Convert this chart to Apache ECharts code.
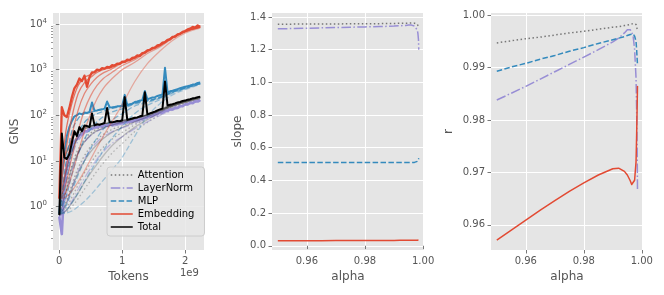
<!DOCTYPE html>
<html><head><meta charset="utf-8">
<script src="https://cdn.jsdelivr.net/npm/echarts@6/dist/echarts.min.js"></script>
<style>html,body{margin:0;padding:0;background:#fff}#c{width:664px;height:295px}</style>
</head><body><div id="c"></div>
<script>
// ---------- Left panel: GNS vs tokens (x in units of 1e9 tokens) ----------
const tokens = [0,0.04,0.08,0.12,0.16,0.2,0.24,0.28,0.32,0.36,0.4,0.44,0.48,0.52,0.56,0.6,0.64,0.68,0.72,0.76,0.8,0.84,0.88,0.92,0.96,1,1.04,1.08,1.12,1.16,1.2,1.24,1.28,1.32,1.36,1.4,1.44,1.48,1.52,1.56,1.6,1.64,1.68,1.72,1.76,1.8,1.84,1.88,1.92,1.96,2,2.04,2.08,2.12,2.16,2.2,2.24];
const attentionGNS = [0.7,6,12,16,22,30,38,42,48,50,54,58,56,60,58,62,60,63,64,66,68,68,70,72,72,75,78,78,80,83,85,88,90,94,98,102,106,110,115,120,125,130,140,150,155,160,168,175,180,188,195,200,208,215,222,230,235];
const layerNormGNS = [0.6,0.25,3,8,14,19,27,30,37,38,45,44,51,50,55,54,58,56,61,59,63,61,65,64,68,66,71,70,74,73,78,78,83,83,89,90,96,97,106,105,116,114,126,125,136,134,147,145,160,158,174,172,188,185,203,200,216];
const mlpGNS = [0.7,4,15,35,55,75,95,100,110,105,115,112,118,190,125,128,132,135,140,200,150,148,152,157,158,162,280,168,172,178,195,200,210,215,340,225,235,245,250,265,275,285,1100,320,335,345,360,375,390,405,420,435,450,470,480,510,520];
const embeddingGNS = [1.5,150,100,92,145,250,390,470,640,560,740,420,690,870,880,1000,960,1080,1050,1150,1120,1260,1230,1350,1330,1500,1480,1650,1620,1800,1850,2050,2000,2300,2350,2650,2700,3000,3050,3400,3500,3900,4000,4500,4600,5200,5300,5900,6100,6700,7000,7600,7900,8600,8300,9300,8700];
const totalGNS = [0.65,40,12,11,14,25,45,35,55,45,60,58,55,110,60,64,62,65,68,145,70,70,72,75,74,78,250,80,82,85,88,90,95,98,320,105,110,115,120,128,135,140,550,165,170,175,182,190,195,205,210,220,225,235,240,250,255];

// smoothed (lagging) curves, sampled at lagTokens
const lagTokens = [0,0.1,0.2,0.3,0.4,0.5,0.6,0.7,0.8,0.9,1.0,1.2,1.4,1.6,1.8,2.0,2.24];
const attentionLag = [
  [0.7,4,20,36,50,55,61,63,67,70,74,84,101,124,159,194,234],
  [0.7,2,8,18,30,41,50,56,62,67,71,82,100,123,158,193,233],
  [0.7,1.2,3,7,13,21,30,38,46,53,59,75,95,120,155,191,232],
  [0.7,0.9,1.6,3,5.5,9,14,20,27,35,42,62,86,114,151,188,230],
  [0.7,0.75,1.0,1.5,2.4,3.8,6,9,13,18,24,44,70,102,143,182,226]
];
const layerNormLag = [
  [0.6,3,13,28,40,49,55,58,61,64,67,76,91,114,139,171,214],
  [0.6,1.5,6,15,26,36,45,51,56,60,64,74,89,112,138,170,213],
  [0.6,1.0,2.5,6,11,18,26,34,41,47,53,67,84,108,135,168,212],
  [0.6,0.8,1.3,2.4,4.2,7,11,16,22,28,34,51,72,100,129,163,209]
];
const mlpLag = [
  [0.7,8,45,85,108,117,126,136,148,154,159,189,209,249,328,398,498],
  [0.7,3,15,40,70,92,108,122,137,147,154,186,207,247,325,396,496],
  [0.7,1.5,5,14,30,50,72,93,112,127,138,177,202,243,322,393,494],
  [0.7,1.0,2.2,5,10,19,32,50,70,90,108,160,192,236,316,388,490],
  [0.7,0.8,1.2,2.0,3.5,6,10,17,27,40,57,110,165,220,305,380,485],
  [0.7,0.72,0.8,1.0,1.3,1.8,2.6,3.8,5.5,8,12,35,95,180,280,365,475]
];
const embeddingLag = [
  [1.5,40,180,450,680,780,950,1050,1100,1280,1480,1830,2630,3480,5150,6950,8650],
  [1.5,15,90,300,520,680,870,1000,1080,1250,1450,1800,2600,3450,5100,6900,8600],
  [1.5,6,35,130,300,480,680,850,980,1180,1380,1750,2550,3400,5050,6850,8550],
  [1.5,3,12,45,130,270,450,640,800,1000,1230,1650,2450,3300,5000,6800,8500],
  [1.5,2,5,15,45,110,230,390,560,760,1000,1450,2250,3150,4850,6700,8400],
  [1.5,1.6,2.2,3.5,6,11,20,35,60,100,170,550,1350,2550,4350,6300,8100]
];
const totalLag = [
  [0.65,5,16,33,50,57,61,65,69,73,77,87,104,134,174,209,254],
  [0.65,2,7,15,26,37,46,53,59,65,70,84,101,132,172,207,253],
  [0.65,1.1,2.6,5.5,10,16,23,31,39,47,54,72,93,125,167,204,251],
  [0.65,0.8,1.2,2,3.4,5.5,8.5,13,19,26,34,55,80,115,160,199,248]
];
const gnsTicks = [1,10,100,1000,10000];
const gnsMinorTicks = [0.2,0.3,0.4,0.5,0.6,0.7,0.8,0.9,2,3,4,5,6,7,8,9,20,30,40,50,60,70,80,90,200,300,400,500,600,700,800,900,2000,3000,4000,5000,6000,7000,8000,9000];
const tokenTicks = [0,1,2];

// ---------- Middle / right panels: slope and r vs alpha ----------
const alpha = [0.95,0.955,0.96,0.965,0.97,0.975,0.98,0.985,0.99,0.992,0.994,0.995,0.996,0.9965,0.997,0.9975,0.998,0.9982,0.9984,0.9985];
const slopeAttention = [1.355,1.356,1.356,1.357,1.357,1.358,1.358,1.359,1.360,1.361,1.362,1.362,1.363,1.363,1.362,1.360,1.355,1.350,1.343,1.338];
const slopeLayerNorm = [1.327,1.329,1.331,1.333,1.335,1.337,1.339,1.341,1.344,1.346,1.348,1.350,1.350,1.348,1.344,1.336,1.320,1.300,1.260,1.200];
const slopeMLP = [0.510,0.510,0.510,0.510,0.509,0.509,0.509,0.509,0.509,0.509,0.509,0.509,0.509,0.509,0.510,0.512,0.516,0.521,0.529,0.535];
const slopeEmbedding = [0.031,0.031,0.031,0.031,0.032,0.032,0.032,0.032,0.032,0.033,0.033,0.033,0.033,0.033,0.033,0.034,0.034,0.034,0.035,0.035];
const rAttention = [0.9947,0.9951,0.9955,0.9958,0.9962,0.9966,0.9969,0.9973,0.9977,0.9978,0.9980,0.9981,0.9982,0.9983,0.9984,0.9984,0.9982,0.9978,0.9973,0.9969];
const rLayerNorm = [0.9838,0.9851,0.9864,0.9878,0.9892,0.9906,0.9920,0.9934,0.9949,0.9956,0.9966,0.9972,0.9972,0.9968,0.9960,0.9935,0.9880,0.9820,0.9740,0.9667];
const rMLP = [0.9893,0.9901,0.9908,0.9916,0.9923,0.9931,0.9938,0.9946,0.9953,0.9956,0.9959,0.9961,0.9963,0.9965,0.9964,0.9960,0.9950,0.9935,0.9915,0.9905];
const rEmbedding = [0.9571,0.9590,0.9609,0.9628,0.9646,0.9664,0.9680,0.9695,0.9707,0.9708,0.9702,0.9695,0.9684,0.9677,0.9676,0.9685,0.9720,0.9770,0.9830,0.9865];
const alphaTicks = [0.96,0.98,1.00];
const slopeTicks = [0.0,0.2,0.4,0.6,0.8,1.0,1.2,1.4];
const rTicks = [0.96,0.97,0.98,0.99,1.00];

// ---------- styling ----------
const FONT = 'DejaVu Sans';
const C = {att:'#777777', ln:'#988ED5', mlp:'#348ABD', emb:'#E24A33', tot:'#000000'};
const DASH = {att:[1.5,2.5], ln:[9.6,2.4,1.5,2.4], mlp:[5.5,2.4], emb:'solid', tot:'solid'};

function pairs(xs, ys){ return ys.map((v,i)=>[xs[i], v]); }
function mk(name, xs, ys, key, opts){
  opts = opts || {};
  return {
    type:'line', name:name, xAxisIndex:opts.xi||0, yAxisIndex:opts.yi||0,
    data:pairs(xs, ys), symbol:'none', smooth:opts.smooth||false, animation:false,
    silent:true,
    lineStyle:{color:C[key], width:opts.w||1.5, type:opts.solid?'solid':DASH[key], opacity:opts.op==null?1:opts.op, cap:'butt', join:'round'},
    itemStyle:{color:C[key]}, z:opts.z||2
  };
}

const series = [];
const groups = [
  ['Attention','att',attentionLag,attentionGNS,1.5],
  ['LayerNorm','ln',layerNormLag,layerNormGNS,2.6],
  ['MLP','mlp',mlpLag,mlpGNS,2.0],
  ['Embedding','emb',embeddingLag,embeddingGNS,2.3],
  ['Total','tot',totalLag,totalGNS,2.0]
];
groups.forEach(([name,key,lags,main,w])=>{
  lags.forEach((arr,j)=>{
    const op = key==='tot' ? 0.28 - j*0.03 : 0.75 - j*0.07;
    series.push(mk(name+'_s'+j, lagTokens, arr, key, {smooth:0.35, op:op, w:1.3}));
  });
  // raw noisy series: dense noise makes the pattern read as a solid band
  series.push(mk(name, tokens, main, key, {w:w, solid:true}));
});
// middle
series.push(mk('m_att', alpha, slopeAttention, 'att', {xi:1, yi:2}));
series.push(mk('m_ln', alpha, slopeLayerNorm, 'ln', {xi:1, yi:2}));
series.push(mk('m_mlp', alpha, slopeMLP, 'mlp', {xi:1, yi:2}));
series.push(mk('m_emb', alpha, slopeEmbedding, 'emb', {xi:1, yi:2}));
// right
series.push(mk('r_att', alpha, rAttention, 'att', {xi:2, yi:3}));
series.push(mk('r_ln', alpha, rLayerNorm, 'ln', {xi:2, yi:3}));
series.push(mk('r_mlp', alpha, rMLP, 'mlp', {xi:2, yi:3}));
series.push(mk('r_emb', alpha, rEmbedding, 'emb', {xi:2, yi:3}));

const tickStyle = {show:true, length:3.5, lineStyle:{color:'#555555', width:0.8}};
const labelStyle = {color:'#555555', fontSize:10, fontFamily:FONT};
const nameStyle = {color:'#555555', fontSize:12, fontFamily:FONT};
const split = {show:true, lineStyle:{color:'#ffffff', width:1}};

function xAxisDef(grid, min, max, ticks, fmt, name){
  return {type:'value', gridIndex:grid, min:min, max:max,
    axisLine:{show:false},
    axisTick:Object.assign({customValues:ticks}, tickStyle),
    axisLabel:Object.assign({customValues:ticks, margin:6, formatter:fmt}, labelStyle),
    splitLine:split, name:name, nameLocation:'middle', nameGap:21, nameTextStyle:nameStyle};
}
function yAxisDef(grid, min, max, ticks, fmt, name, gap){
  return {type:'value', gridIndex:grid, min:min, max:max,
    axisLine:{show:false},
    axisTick:Object.assign({customValues:ticks}, tickStyle),
    axisLabel:Object.assign({customValues:ticks, margin:6, formatter:fmt}, labelStyle),
    splitLine:split, name:name, nameLocation:'middle', nameGap:gap, nameRotate:90, nameTextStyle:nameStyle};
}

const gnsAxis = {type:'log', gridIndex:0, position:'left', min:0.112, max:17400, logBase:10,
  axisLine:{show:false},
  axisTick:Object.assign({customValues:gnsTicks}, tickStyle),
  axisLabel:Object.assign({customValues:gnsTicks, margin:6,
    formatter:function(v){ return '10{sup|' + Math.round(Math.log10(v)) + '}'; },
    rich:{sup:{fontSize:7, fontFamily:FONT, color:'#555555', verticalAlign:'top', padding:[0,0,6,0]}}}, labelStyle),
  splitLine:split, name:'GNS', nameLocation:'middle', nameGap:32, nameRotate:90, nameTextStyle:nameStyle};
const gnsMinorAxis = {type:'log', gridIndex:0, position:'left', offset:0, min:0.112, max:17400, logBase:10,
  axisLine:{show:false},
  axisTick:{show:true, customValues:gnsMinorTicks, length:2, lineStyle:{color:'#555555', width:0.6}},
  axisLabel:{show:false}, splitLine:{show:false}};

const legendNames = ['Attention','LayerNorm','MLP','Embedding','Total'];
const legendKeys = ['att','ln','mlp','emb','tot'];

const option = {
  backgroundColor:'#ffffff',
  animation:false,
  textStyle:{fontFamily:FONT},
  grid:[
    {left:53, top:13, width:151, height:237, show:true, backgroundColor:'#E5E5E5', borderWidth:0},
    {left:272, top:13, width:152, height:237, show:true, backgroundColor:'#E5E5E5', borderWidth:0},
    {left:491, top:13, width:152, height:237, show:true, backgroundColor:'#E5E5E5', borderWidth:0}
  ],
  xAxis:[
    xAxisDef(0, -0.1, 2.3, tokenTicks, v=>String(Math.round(v)), 'Tokens'),
    xAxisDef(1, 0.948, 1.0003, alphaTicks, v=>v.toFixed(2), 'alpha'),
    xAxisDef(2, 0.948, 1.0004, alphaTicks, v=>v.toFixed(2), 'alpha')
  ],
  yAxis:[
    gnsAxis,
    gnsMinorAxis,
    yAxisDef(1, -0.026, 1.424, slopeTicks, v=>v.toFixed(1), 'slope', 28),
    yAxisDef(2, 0.9552, 1.0004, rTicks, v=>v.toFixed(2), 'r', 36)
  ],
  legend:{
    show:true, orient:'vertical', left:107, top:167, selectedMode:false,
    data:legendNames.map((n,i)=>({name:n, lineStyle:{type:DASH[legendKeys[i]], width:1.5, color:C[legendKeys[i]], opacity:1}})),
    itemWidth:22, itemHeight:12, itemGap:3, padding:[3,10,4,3],
    backgroundColor:'rgba(232,232,232,0.85)', borderColor:'#cccccc', borderWidth:1, borderRadius:3,
    textStyle:{color:'#000000', fontSize:10, fontFamily:FONT},
    itemStyle:{opacity:0}
  },
  graphic:[
    {type:'text', left:180, top:268, style:{text:'1e9', fill:'#555555', font:'10px "DejaVu Sans"'}}
  ],
  series:series
};
const chart = echarts.init(document.getElementById('c'), null, {renderer:'canvas'});
chart.setOption(option);
</script>
</body></html>
